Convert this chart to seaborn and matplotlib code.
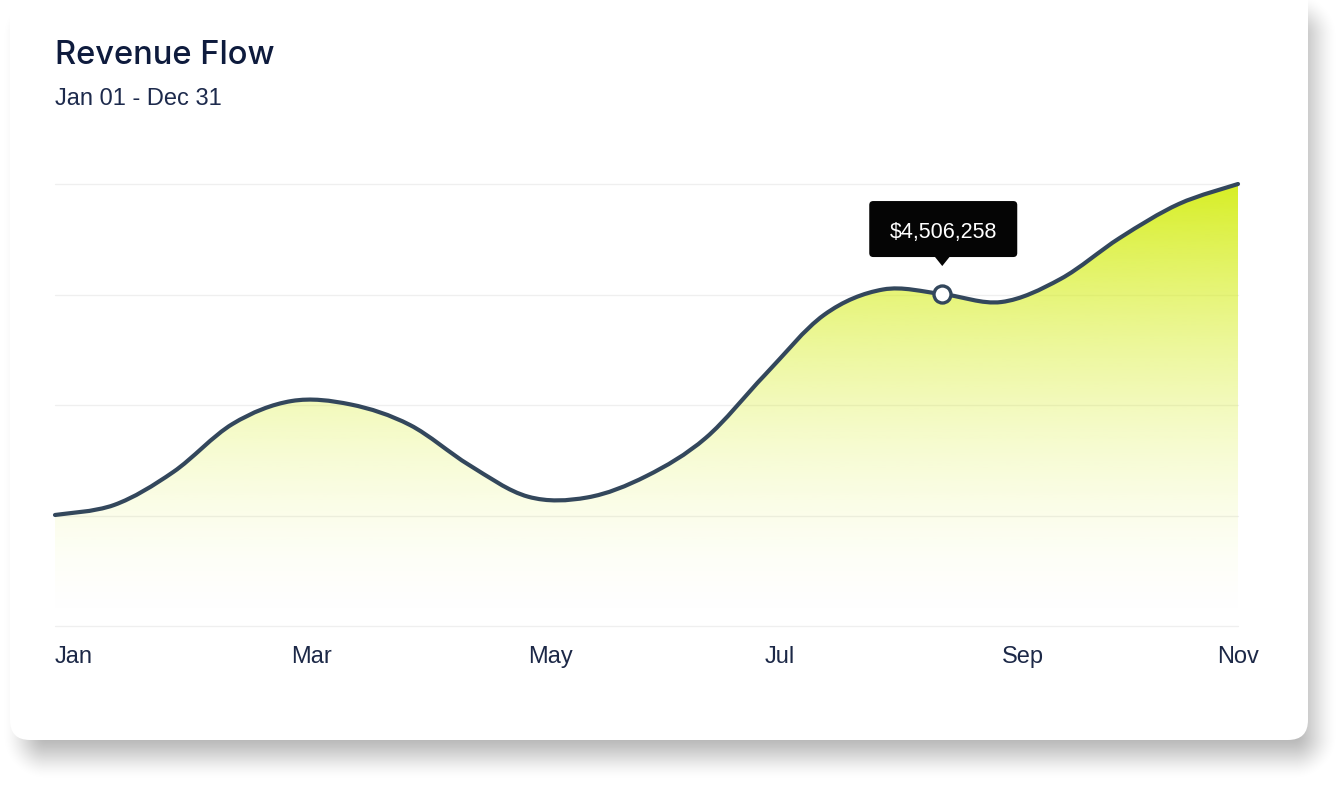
import numpy as np
import pandas as pd
import matplotlib
matplotlib.use("Agg")
import matplotlib.pyplot as plt
from matplotlib.path import Path
from matplotlib.patches import PathPatch, FancyBboxPatch, Polygon
from matplotlib.transforms import IdentityTransform
import seaborn as sns

# half-monthly revenue readings, Jan 01 .. Nov 01
periods = ["Jan 01", "Jan 16", "Feb 01", "Feb 16", "Mar 01", "Mar 16", "Apr 01",
           "Apr 16", "May 01", "May 16", "Jun 01", "Jun 16", "Jul 01", "Jul 16",
           "Aug 01", "Aug 16", "Sep 01", "Sep 16", "Oct 01", "Oct 16", "Nov 01"]
revenue = [1507000, 1643000, 2091000, 2742000, 3054000, 3007000, 2729000,
           2186000, 1755000, 1745000, 2036000, 2552000, 3407000, 4222000,
           4568000, 4506258, 4398000, 4711000, 5267000, 5729000, 6000000]
tick_months = ["Jan", "Mar", "May", "Jul", "Sep", "Nov"]
tick_periods = ["Jan 01", "Mar 01", "May 01", "Jul 01", "Sep 01", "Nov 01"]
highlight = "Aug 16"
y_ticks = [0, 1500000, 3000000, 4500000, 6000000]

df = pd.DataFrame({"period": periods, "revenue": revenue})
df["idx"] = np.arange(len(df))

sns.set_theme(style="white")
plt.rcParams["font.family"] = ["Liberation Sans", "DejaVu Sans"]

W, H = 1342, 786
fig = plt.figure(figsize=(W / 100, H / 100), dpi=100)
fig.patch.set_facecolor("white")

# soft card shadow, built as a pixel image (image coords, y down)
yy, xx = np.mgrid[0:H, 0:W] + 0.5
sx0, sx1, sy0, sy1, rs = 26, 1314, 16, 756, 20
blur, a0 = 25, 0.30
qx = np.abs(xx - (sx0 + sx1) / 2) - (sx1 - sx0) / 2 + rs
qy = np.abs(yy - (sy0 + sy1) / 2) - (sy1 - sy0) / 2 + rs
d = np.hypot(np.maximum(qx, 0), np.maximum(qy, 0)) + np.minimum(np.maximum(qx, qy), 0) - rs
t = np.clip((d + blur) / (2 * blur), 0, 1)
shadow = np.zeros((H, W, 4))
shadow[..., 3] = a0 * (1 - t * t * (3 - 2 * t))
fig.figimage(shadow, 0, 0, origin="upper", zorder=-3)

card = FancyBboxPatch((10, H - 740), 1298, 790, boxstyle="round,pad=0,rounding_size=20",
                      transform=IdentityTransform(), facecolor="white",
                      edgecolor="none", zorder=-2)
fig.patches.append(card)

# plot area: x 55..1238, y 184..626 px
ax = fig.add_axes([55 / W, (H - 626) / H, (1238 - 55) / W, (626 - 184) / H])
ax.set_facecolor("none")
ax.set_xlim(0, len(df) - 1)
ax.set_ylim(y_ticks[0], y_ticks[-1])

# smooth curve through the readings (Catmull-Rom as cubic bezier)
pts = df[["idx", "revenue"]].to_numpy(float)
ext = np.vstack([pts[0], pts, pts[-1]])
verts, codes = [pts[0]], [Path.MOVETO]
for i in range(len(pts) - 1):
    p0, p1, p2, p3 = ext[i], ext[i + 1], ext[i + 2], ext[i + 3]
    verts += [p1 + (p2 - p0) / 6, p2 - (p3 - p1) / 6, p2]
    codes += [Path.CURVE4] * 3
line_path = Path(verts, codes)
area_path = Path(verts + [(pts[-1][0], 0), (pts[0][0], 0), pts[0]],
                 codes + [Path.LINETO, Path.LINETO, Path.CLOSEPOLY])

area = PathPatch(area_path, facecolor="none", edgecolor="none")
ax.add_patch(area)
base = np.array([214, 238, 30]) / 255
frac = np.linspace(0, 1, 256)[:, None]
alpha = 0.97 * frac ** 1.7
grad = np.dstack([np.broadcast_to(base[0], frac.shape), np.broadcast_to(base[1], frac.shape),
                  np.broadcast_to(base[2], frac.shape), alpha])
im = ax.imshow(grad, extent=(0, len(df) - 1, 0, y_ticks[-1]), origin="lower",
               aspect="auto", zorder=1, interpolation="bilinear")
im.set_clip_path(area)

for v in y_ticks:
    ax.axhline(v, color="#efefef", lw=0.9, zorder=0.5, clip_on=False)

ax.add_patch(PathPatch(line_path, facecolor="none", edgecolor="#33475c",
                       lw=3.0, capstyle="round", joinstyle="round",
                       zorder=3, clip_on=False))

hi = df[df["period"] == highlight]
sns.scatterplot(data=hi, x="idx", y="revenue", ax=ax, s=150, color="white",
                edgecolor="#33475c", linewidth=2.4, zorder=4, clip_on=False)

ax.set_yticks(y_ticks)
ax.set_yticklabels([])
ax.grid(False)
for s in ax.spines.values():
    s.set_visible(False)
ax.set_xlabel("")
ax.set_ylabel("")
tick_pos = [periods.index(p) for p in tick_periods]
ax.set_xticks(tick_pos)
ax.set_xticklabels(tick_months, fontsize=17, color="#1c2847")
ax.tick_params(axis="x", length=0, pad=14.5)
ax.tick_params(axis="y", length=0)
labels = ax.get_xticklabels()
for lab in labels[:-1]:
    lab.set_ha("left")
labels[-1].set_ha("center")

# tooltip above the highlighted point
hx, hy = ax.transData.transform((hi["idx"].iloc[0], hi["revenue"].iloc[0]))
box = FancyBboxPatch((hx - 73, hy + 37), 148, 56, boxstyle="round,pad=0,rounding_size=4",
                     transform=IdentityTransform(), facecolor="#050505",
                     edgecolor="none", zorder=5)
fig.patches.append(box)
tri = Polygon([(hx - 8, hy + 38), (hx + 8, hy + 38), (hx, hy + 28)], closed=True,
              transform=IdentityTransform(), facecolor="#050505", edgecolor="none", zorder=5)
fig.patches.append(tri)
fig.text((hx + 1) / W, (hy + 62) / H, f"${hi['revenue'].iloc[0]:,}", color="white",
         fontsize=15.5, ha="center", va="center", zorder=6)

fig.text(55 / W, (H - 64) / H, "Revenue Flow", fontsize=23.5, color="#0e1b3d",
         family=["Inter", "DejaVu Sans"], fontweight="medium", va="baseline")
fig.text(55 / W, (H - 105) / H, "Jan 01 - Dec 31", fontsize=17, color="#1d2a4c",
         va="baseline")

fig.savefig("out.png", dpi=100, facecolor="white")
